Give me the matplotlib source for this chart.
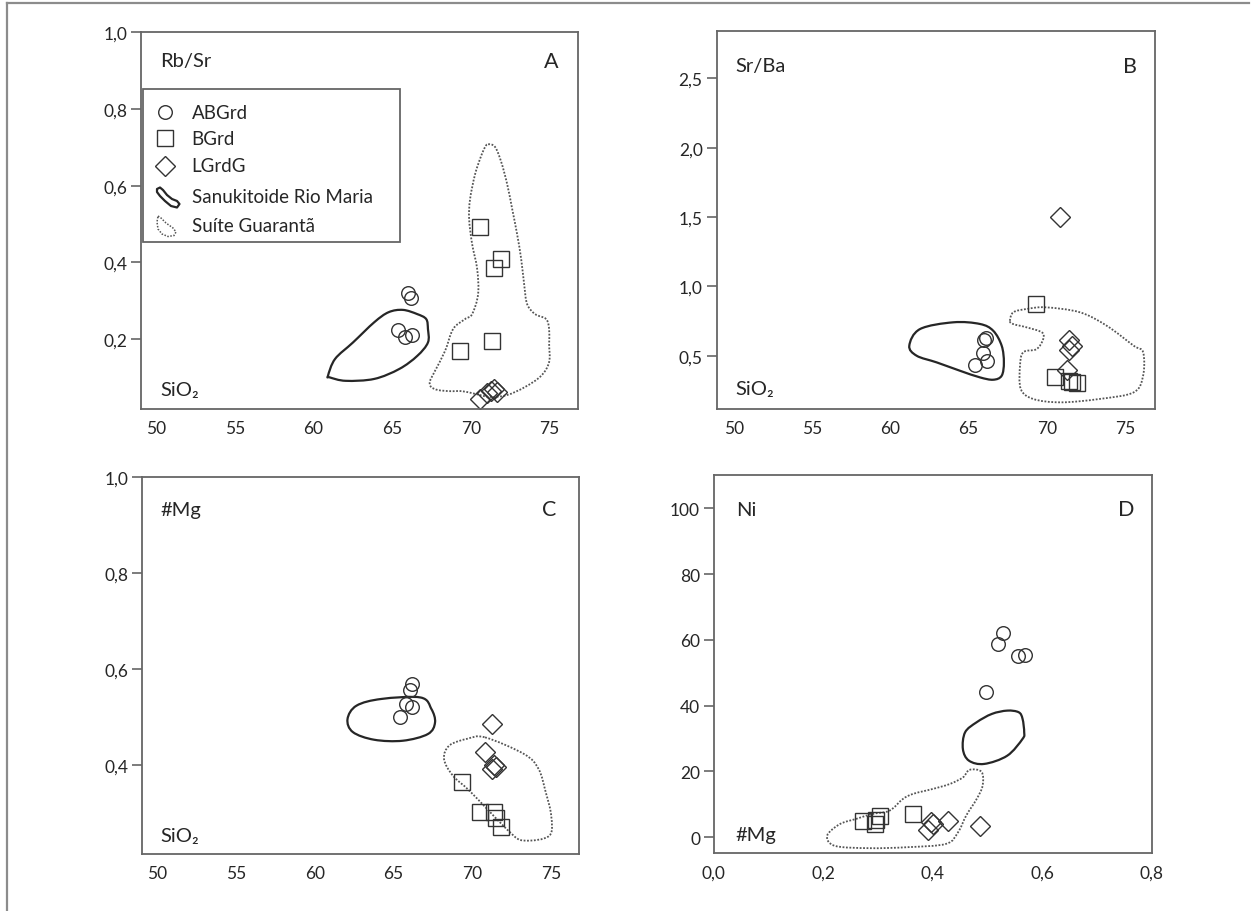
import matplotlib
matplotlib.use("Agg")
import matplotlib.pyplot as plt
from matplotlib.patches import Polygon, Rectangle, PathPatch
from matplotlib.path import Path
from matplotlib.lines import Line2D

plt.rcParams['font.family'] = ['Lato', 'DejaVu Sans']

# ---------------- data ----------------
# Panel A : Rb/Sr vs SiO2
A_abgrd_x = [66.0, 66.2, 65.4, 65.8, 66.25]
A_abgrd_y = [0.320, 0.308, 0.224, 0.206, 0.210]
A_bgrd_x = [70.57, 71.9, 71.48, 71.37, 69.33]
A_bgrd_y = [0.493, 0.410, 0.384, 0.196, 0.170]
A_lgrdg_x = [70.6, 71.04, 71.3, 71.49, 71.68]
A_lgrdg_y = [0.044, 0.059, 0.064, 0.070, 0.062]
A_san_x = [60.92, 61.37, 62.51, 63.87, 64.78, 65.69, 66.6, 67.17, 67.28, 67.28,
           66.6, 65.46, 63.87, 62.05, 61.03]
A_san_y = [0.104, 0.148, 0.191, 0.244, 0.270, 0.276, 0.265, 0.252, 0.226, 0.191,
           0.156, 0.122, 0.096, 0.091, 0.100]
A_gua_x = [71.11, 71.55, 71.94, 72.32, 72.64, 72.95, 73.21, 73.40, 73.59, 74.10,
           74.8, 74.99, 74.99, 74.99, 74.48, 73.46, 72.32, 71.23, 70.28, 69.45,
           68.69, 67.92, 67.48, 67.41, 67.73, 68.37, 68.88, 69.64, 70.09, 70.47,
           70.41, 70.09, 69.90, 69.96, 70.28, 70.66, 70.92]
A_gua_y = [0.708, 0.701, 0.662, 0.604, 0.539, 0.474, 0.409, 0.343, 0.291, 0.265,
           0.252, 0.226, 0.187, 0.140, 0.104, 0.075, 0.054, 0.049, 0.057, 0.064,
           0.064, 0.067, 0.075, 0.090, 0.117, 0.169, 0.226, 0.252, 0.265, 0.317,
           0.383, 0.448, 0.513, 0.565, 0.630, 0.677, 0.701]

# Panel B : Sr/Ba vs SiO2
B_abgrd_x = [66.1, 66.0, 65.9, 65.4, 66.2]
B_abgrd_y = [0.63, 0.61, 0.52, 0.43, 0.46]
B_bgrd_x = [69.3, 70.5, 71.4, 71.6, 71.9]
B_bgrd_y = [0.87, 0.35, 0.32, 0.31, 0.30]
B_lgrdg_x = [70.84, 71.38, 71.58, 71.43, 71.26]
B_lgrdg_y = [1.50, 0.61, 0.57, 0.54, 0.40]
B_san_x = [61.21, 61.89, 64.02, 65.72, 66.57, 67.11, 67.25, 67.11, 66.57, 65.72,
           64.44, 62.96, 61.68]
B_san_y = [0.572, 0.692, 0.741, 0.729, 0.680, 0.572, 0.452, 0.356, 0.327, 0.344,
           0.392, 0.452, 0.500]
B_gua_x = [67.64, 67.85, 68.70, 69.92, 72.11, 73.82, 75.54, 76.14, 76.14, 75.54,
           73.33, 70.89, 69.13, 68.33, 68.28, 68.49, 69.34, 69.76, 69.67, 68.69,
           67.83]
B_gua_y = [0.752, 0.813, 0.837, 0.849, 0.813, 0.716, 0.572, 0.525, 0.356, 0.236,
           0.188, 0.164, 0.188, 0.260, 0.428, 0.525, 0.548, 0.620, 0.669, 0.705,
           0.729]

# Panel C : #Mg vs SiO2
C_abgrd_x = [66.16, 66.04, 65.77, 66.16, 65.41]
C_abgrd_y = [0.568, 0.556, 0.526, 0.520, 0.499]
C_bgrd_x = [69.33, 70.46, 71.37, 71.49, 71.83]
C_bgrd_y = [0.363, 0.301, 0.301, 0.290, 0.270]
C_lgrdg_x = [71.26, 70.80, 71.26, 71.49, 71.40]
C_lgrdg_y = [0.485, 0.426, 0.391, 0.395, 0.400]
C_san_x = [62.07, 62.64, 64.22, 66.72, 67.40, 67.63, 67.18, 65.59, 63.77, 62.41]
C_san_y = [0.495, 0.523, 0.537, 0.540, 0.516, 0.488, 0.464, 0.450, 0.452, 0.468]
C_gua_x = [70.81, 73.30, 74.21, 74.66, 75.01, 74.89, 73.30, 72.40, 69.90, 68.77,
           68.20, 68.54, 69.67]
C_gua_y = [0.457, 0.422, 0.391, 0.343, 0.294, 0.252, 0.242, 0.259, 0.343, 0.377,
           0.412, 0.440, 0.454]

# Panel D : Ni vs #Mg
D_abgrd_x = [0.528, 0.519, 0.556, 0.568, 0.498]
D_abgrd_y = [62.1, 58.8, 55.2, 55.4, 44.3]
D_bgrd_x = [0.272, 0.294, 0.303, 0.297, 0.363]
D_bgrd_y = [5.0, 4.0, 6.6, 5.2, 7.0]
D_lgrdg_x = [0.391, 0.397, 0.400, 0.428, 0.486]
D_lgrdg_y = [2.2, 4.8, 4.0, 5.0, 3.3]
D_san_x = [0.480, 0.508, 0.536, 0.557, 0.564, 0.567, 0.564, 0.536, 0.494, 0.466,
           0.455, 0.459]
D_san_y = [34.95, 37.5, 38.5, 38.0, 36.0, 31.9, 29.9, 24.8, 22.3, 23.3, 26.8, 31.9]
D_gua_x = [0.467, 0.489, 0.491, 0.480, 0.461, 0.446, 0.424, 0.354, 0.284, 0.221,
           0.207, 0.230, 0.260, 0.290, 0.321, 0.345, 0.364, 0.400, 0.431, 0.455]
D_gua_y = [20.5, 19.9, 15.7, 11.6, 6.6, 1.5, -2.0, -3.0, -3.3, -2.6,
           0.5, 4.0, 5.6, 7.1, 8.1, 11.6, 13.2, 14.7, 16.2, 18.2]

sio2_ticks = [50, 55, 60, 65, 70, 75]
sio2_labels = ['50', '55', '60', '65', '70', '75']
A_yticks = [0.2, 0.4, 0.6, 0.8, 1.0]
A_ylabels = ['0,2', '0,4', '0,6', '0,8', '1,0']
B_yticks = [0.5, 1.0, 1.5, 2.0, 2.5]
B_ylabels = ['0,5', '1,0', '1,5', '2,0', '2,5']
C_yticks = [0.4, 0.6, 0.8, 1.0]
C_ylabels = ['0,4', '0,6', '0,8', '1,0']
D_yticks = [0, 20, 40, 60, 80, 100]
D_ylabels = ['0', '20', '40', '60', '80', '100']
D_xticks = [0.0, 0.2, 0.4, 0.6, 0.8]
D_xlabels = ['0,0', '0,2', '0,4', '0,6', '0,8']

legend_labels = ['ABGrd', 'BGrd', 'LGrdG', 'Sanukitoide Rio Maria', 'Suíte Guarantã']

# ---------------- style ----------------
W, H = 1253, 912
SPINE = '#666666'
INK = '#262626'
TXT = '#262626'
MK = dict(linestyle='none', markerfacecolor='none', markeredgecolor='#333333',
          markeredgewidth=1.0)
TICK_FS = 12.5
TITLE_FS = 14.5
LETTER_FS = 15.5
LEG_FS = 13.5

fig = plt.figure(figsize=(W / 100, H / 100), dpi=100)


def box_to_rect(l, t, r, b):
    return [l / W, 1 - b / H, (r - l) / W, (b - t) / H]


boxes = {
    'A': (141.4, 33.3, 577.9, 410.0),
    'B': (716.5, 32.3, 1154.7, 410.0),
    'C': (142.1, 477.7, 578.9, 855.0),
    'D': (713.9, 476.0, 1151.7, 854.3),
}


def smooth_closed_path(xs, ys):
    """Closed Catmull-Rom outline through the given vertices, as Bezier path."""
    n = len(xs)
    pts = list(zip(xs, ys))
    verts = [pts[0]]
    codes = [Path.MOVETO]
    for i in range(n):
        p0 = pts[(i - 1) % n]
        p1 = pts[i]
        p2 = pts[(i + 1) % n]
        p3 = pts[(i + 2) % n]
        c1 = (p1[0] + (p2[0] - p0[0]) / 6.0, p1[1] + (p2[1] - p0[1]) / 6.0)
        c2 = (p2[0] - (p3[0] - p1[0]) / 6.0, p2[1] - (p3[1] - p1[1]) / 6.0)
        verts += [c1, c2, p2]
        codes += [Path.CURVE4] * 3
    verts.append(pts[0])
    codes.append(Path.CLOSEPOLY)
    return Path(verts, codes)


def make_ax(key, xlim, ylim, xt, xl, yt, yl):
    ax = fig.add_axes(box_to_rect(*boxes[key]))
    ax.set_xlim(*xlim)
    ax.set_ylim(*ylim)
    ax.set_xticks(xt)
    ax.set_xticklabels(xl)
    ax.set_yticks(yt)
    ax.set_yticklabels(yl)
    for s in ax.spines.values():
        s.set_color(SPINE)
        s.set_linewidth(1.3)
    ax.tick_params(axis='y', direction='out', length=7, width=1.2, color=SPINE,
                   labelsize=TICK_FS, labelcolor=TXT, pad=3)
    ax.tick_params(axis='x', direction='out', length=0, width=1.2, color=SPINE,
                   labelsize=TICK_FS, labelcolor=TXT, pad=8)
    return ax


def draw_groups(ax, ax_x, ay, bx, by, dx, dy, sx, sy, gx, gy):
    ax.add_patch(PathPatch(smooth_closed_path(sx, sy), fill=False,
                           edgecolor=INK, linewidth=1.6, joinstyle='round'))
    ax.add_patch(PathPatch(smooth_closed_path(gx, gy), fill=False,
                           edgecolor='#555555', linewidth=1.3,
                           linestyle=(0, (1.0, 0.9))))
    ax.plot(ax_x, ay, marker='o', markersize=9.8, **MK)
    ax.plot(bx, by, marker='s', markersize=12, **MK)
    ax.plot(dx, dy, marker='D', markersize=10, **MK)


def labels(ax, ylab, letter, xlab, ypos_top, ypos_bot, xl_left, letter_x):
    ax.text(xl_left, ypos_top, ylab, transform=ax.transAxes, fontsize=TITLE_FS,
            color=TXT, ha='left', va='center')
    ax.text(letter_x, ypos_top, letter, transform=ax.transAxes, fontsize=LETTER_FS,
            color=TXT, ha='center', va='center')
    ax.text(xl_left, ypos_bot, xlab, transform=ax.transAxes, fontsize=TITLE_FS,
            color=TXT, ha='left', va='center')


axA = make_ax('A', (49.05, 76.82), (0.0175, 1.0), sio2_ticks, sio2_labels,
              A_yticks, A_ylabels)
draw_groups(axA, A_abgrd_x, A_abgrd_y, A_bgrd_x, A_bgrd_y, A_lgrdg_x, A_lgrdg_y,
            A_san_x, A_san_y, A_gua_x, A_gua_y)
labels(axA, 'Rb/Sr', 'A', 'SiO₂', 0.924, 0.053, 0.043, 0.938)

axB = make_ax('B', (48.9, 76.88), (0.116, 2.839), sio2_ticks, sio2_labels,
              B_yticks, B_ylabels)
draw_groups(axB, B_abgrd_x, B_abgrd_y, B_bgrd_x, B_bgrd_y, B_lgrdg_x, B_lgrdg_y,
            B_san_x, B_san_y, B_gua_x, B_gua_y)
labels(axB, 'Sr/Ba', 'B', 'SiO₂', 0.909, 0.053, 0.044, 0.943)

axC = make_ax('C', (49.02, 76.77), (0.214, 1.0), sio2_ticks, sio2_labels,
              C_yticks, C_ylabels)
draw_groups(axC, C_abgrd_x, C_abgrd_y, C_bgrd_x, C_bgrd_y, C_lgrdg_x, C_lgrdg_y,
            C_san_x, C_san_y, C_gua_x, C_gua_y)
labels(axC, '#Mg', 'C', 'SiO₂', 0.914, 0.049, 0.041, 0.932)

axD = make_ax('D', (0.0, 0.8), (-4.86, 110.1), D_xticks, D_xlabels,
              D_yticks, D_ylabels)
draw_groups(axD, D_abgrd_x, D_abgrd_y, D_bgrd_x, D_bgrd_y, D_lgrdg_x, D_lgrdg_y,
            D_san_x, D_san_y, D_gua_x, D_gua_y)
labels(axD, 'Ni', 'D', '#Mg', 0.910, 0.051, 0.050, 0.941)

# ---------------- legend (panel A) ----------------
bA = boxes['A']


def fr(px, py):
    return ((px - bA[0]) / (bA[2] - bA[0]), (bA[3] - py) / (bA[3] - bA[1]))


x0, y0 = fr(142.9, 242.7)
x1, y1 = fr(400.0, 90.0)
axA.add_patch(Rectangle((x0, y0), x1 - x0, y1 - y0, transform=axA.transAxes,
                        fill=True, facecolor='white', edgecolor=SPINE,
                        linewidth=1.3, zorder=5))
rows_py = [113.3, 139.3, 166.7, 197.3, 226.7]
mk_x, _ = fr(165.0, 0)
tx_x, _ = fr(191.5, 0)
for i, (mk, ms) in enumerate(zip(['o', 's', 'D'], [9.8, 12, 10])):
    _, yy = fr(0, rows_py[i])
    axA.plot([mk_x], [yy], marker=mk, markersize=ms, transform=axA.transAxes,
             zorder=6, clip_on=False, **MK)
for i, lab in enumerate(legend_labels):
    _, yy = fr(0, rows_py[i])
    axA.text(tx_x, yy, lab, transform=axA.transAxes, fontsize=LEG_FS, color=TXT,
             ha='left', va='center', zorder=6)

san_icon = [(157, 190), (160, 188.5), (163, 191), (167, 196), (172, 200), (177, 202),
            (179.5, 205), (177, 208.5), (171, 207), (165, 202), (160, 197), (157, 193)]
gua_icon = [(158, 217), (161, 219), (166, 224), (173, 229), (176, 233), (174, 236.5),
            (168, 237.5), (162, 235), (158, 230), (157, 223)]
axA.add_patch(Polygon([fr(*p) for p in san_icon], closed=True, fill=False,
                      edgecolor=INK, linewidth=1.6, transform=axA.transAxes,
                      zorder=6, joinstyle='round'))
axA.add_patch(Polygon([fr(*p) for p in gua_icon], closed=True, fill=False,
                      edgecolor='#555555', linewidth=1.1,
                      linestyle=(0, (1.0, 1.0)), transform=axA.transAxes,
                      zorder=6))

# ---------------- outer frame ----------------
fig.add_artist(Line2D([7 / W, 7 / W], [0, 1 - 4 / H], transform=fig.transFigure,
                      color='#8c8c8c', linewidth=1.6))
fig.add_artist(Line2D([7 / W, 1249 / W], [1 - 4 / H, 1 - 4 / H],
                      transform=fig.transFigure, color='#8c8c8c', linewidth=1.6))

fig.savefig('out.png', dpi=100, facecolor='white')
